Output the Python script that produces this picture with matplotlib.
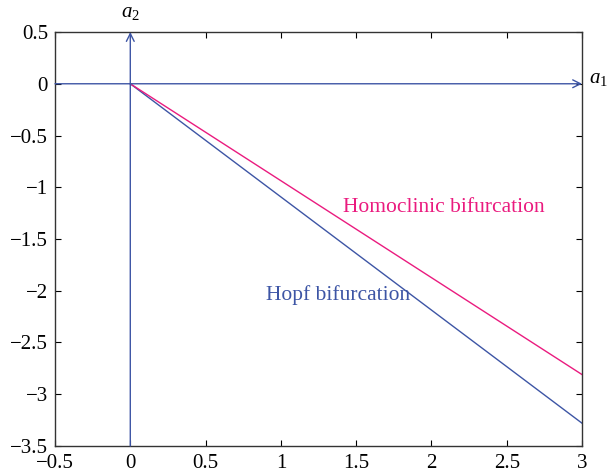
import matplotlib
matplotlib.use("Agg")
import matplotlib.pyplot as plt

plt.rcParams["font.family"] = ["Liberation Serif", "DejaVu Serif"]
plt.rcParams["mathtext.fontset"] = "custom"
plt.rcParams["mathtext.it"] = "Liberation Serif:italic"
plt.rcParams["mathtext.rm"] = "Liberation Serif"

# boundary lines a2 = k * a1, read at a1 = 0 and a1 = 3
a1_pts = [0, 3]
hopf_a2 = [0, -3.28]
homoclinic_a2 = [0, -2.81]

xticks = [-0.5, 0, 0.5, 1, 1.5, 2, 2.5, 3]
yticks = [-3.5, -3, -2.5, -2, -1.5, -1, -0.5, 0, 0.5]

BLUE = "#3d55a5"
PINK = "#ea1b7f"


def fmt(t):
    return ("%g" % t).replace("-", "\u2212")


fig = plt.figure(figsize=(6.07, 4.73), dpi=100)
ax = fig.add_axes([0.0906, 0.0571, 0.8683, 0.8752])

ax.plot(a1_pts, hopf_a2, color=BLUE, lw=1.0)
ax.plot(a1_pts, homoclinic_a2, color=PINK, lw=1.0)

# coordinate axes with open arrowheads
arrow = dict(arrowstyle="->", color=BLUE, lw=1.0, mutation_scale=14, shrinkA=0, shrinkB=0)
ax.annotate("", xy=(3, 0), xytext=(-0.5, 0), arrowprops=arrow, annotation_clip=False)
ax.annotate("", xy=(0, 0.5), xytext=(0, -3.5), arrowprops=arrow, annotation_clip=False)

ax.text(3.045, 0.05, "$a_1$", fontsize=15, ha="left", va="center", clip_on=False)
ax.text(0.0, 0.6, "$a_2$", fontsize=15, ha="center", va="bottom", clip_on=False)

ax.text(1.41, -1.2, "Homoclinic bifurcation", color=PINK, fontsize=15.5, ha="left", va="center")
ax.text(0.9, -2.04, "Hopf bifurcation", color=BLUE, fontsize=15.5, ha="left", va="center")

ax.set_xlim(-0.5, 3)
ax.set_ylim(-3.5, 0.5)
ax.set_xticks(xticks)
ax.set_xticklabels([fmt(t) for t in xticks])
ax.set_yticks(yticks)
ax.set_yticklabels([fmt(t) for t in yticks])
ax.tick_params(direction="in", top=True, right=True, labelsize=15, length=4, width=0.8)
ax.tick_params(axis="y", pad=5)
ax.tick_params(axis="x", pad=6)
for s in ax.spines.values():
    s.set_color("#333333")
    s.set_linewidth(1.0)

fig.savefig("out.png", dpi=100)
